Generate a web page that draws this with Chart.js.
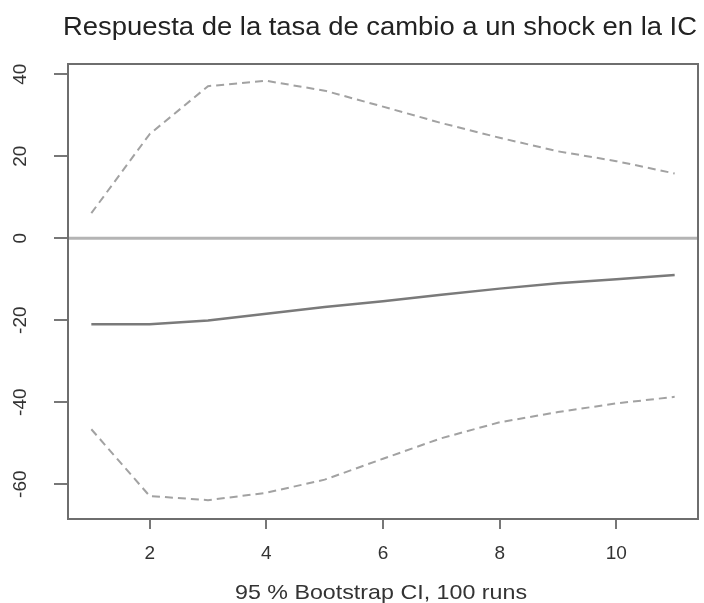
<!DOCTYPE html>
<html>
<head>
<meta charset="utf-8">
<script src="https://cdn.jsdelivr.net/npm/chart.js@4.4.1/dist/chart.umd.min.js"></script>
<style>
  html, body { margin: 0; padding: 0; background: #fff; }
  #wrap { width: 704px; height: 603px; }
</style>
</head>
<body>
<div id="wrap"><canvas id="chart" width="704" height="603"></canvas></div>
<script>
var steps = [1, 2, 3, 4, 5, 6, 7, 8, 9, 10, 11];
var response = [-21.0, -21.0, -20.1, -18.4, -16.8, -15.4, -13.8, -12.3, -11.0, -10.0, -9.0];
var upperCI = [6.1, 25.4, 37.1, 38.4, 36.0, 32.1, 28.1, 24.5, 21.2, 18.8, 15.8];
var lowerCI = [-46.6, -62.9, -63.9, -62.1, -58.9, -53.8, -48.8, -44.9, -42.4, -40.3, -38.7];
var xTicks = [2, 4, 6, 8, 10];
var yTicks = [-60, -40, -20, 0, 20, 40];

var titleText = 'Respuesta de la tasa de cambio a un shock en la IC';
var xTitle = '95 % Bootstrap CI, 100 runs';
var fontFam = '"Liberation Sans", Arial, Helvetica, sans-serif';

function pts(ys) {
  return steps.map(function(x, i) { return { x: x, y: ys[i] }; });
}

// text stretched to a given width, like the wide R output
function wideText(ctx, txt, cx, by, w) {
  var m = ctx.measureText(txt).width;
  ctx.save();
  ctx.translate(cx, by);
  ctx.scale(w / m, 1);
  ctx.textAlign = 'center';
  ctx.fillText(txt, 0, 0);
  ctx.restore();
}

// R-style box, zero line, rotated y labels, titles
var rDecor = {
  id: 'rDecor',
  beforeDatasetsDraw: function(chart) {
    var ctx = chart.ctx, a = chart.chartArea, y = chart.scales.y;
    var y0 = y.getPixelForValue(0);
    ctx.save();
    ctx.strokeStyle = '#b4b4b4';
    ctx.lineWidth = 3;
    ctx.beginPath();
    ctx.moveTo(a.left, y0);
    ctx.lineTo(a.right, y0);
    ctx.stroke();
    ctx.restore();
  },
  afterDraw: function(chart) {
    var ctx = chart.ctx, a = chart.chartArea, x = chart.scales.x, y = chart.scales.y;
    ctx.save();
    ctx.strokeStyle = '#6e6e6e';
    ctx.lineWidth = 2;
    ctx.strokeRect(a.left, a.top, a.right - a.left, a.bottom - a.top);

    ctx.fillStyle = '#333';
    ctx.font = '19px ' + fontFam;
    ctx.textAlign = 'center';
    ctx.textBaseline = 'alphabetic';
    yTicks.forEach(function(v) {
      ctx.save();
      ctx.translate(26, y.getPixelForValue(v));
      ctx.rotate(-Math.PI / 2);
      ctx.fillText(String(v), 0, 0);
      ctx.restore();
    });
    xTicks.forEach(function(v) {
      ctx.fillText(String(v), x.getPixelForValue(v), 559);
    });

    ctx.font = '21px ' + fontFam;
    wideText(ctx, xTitle, 381, 599, 292);

    ctx.fillStyle = '#222';
    ctx.font = '25px ' + fontFam;
    wideText(ctx, titleText, 380, 35, 634);
    ctx.restore();
  }
};

var config = {
  type: 'line',
  data: {
    datasets: [{
      label: 'respuesta',
      data: pts(response),
      borderColor: '#7a7a7a',
      borderWidth: 2.5,
      pointRadius: 0,
      tension: 0
    }, {
      label: 'superior',
      data: pts(upperCI),
      borderColor: '#a2a2a2',
      borderWidth: 2,
      borderDash: [8, 5],
      pointRadius: 0,
      tension: 0
    }, {
      label: 'inferior',
      data: pts(lowerCI),
      borderColor: '#a2a2a2',
      borderWidth: 2,
      borderDash: [8, 5],
      pointRadius: 0,
      tension: 0
    }]
  },
  options: {
    responsive: false,
    animation: false,
    layout: { padding: { top: 64, right: 6, left: 0, bottom: 0 } },
    plugins: {
      legend: { display: false },
      title: { display: false },
      tooltip: { enabled: false }
    },
    scales: {
      x: {
        type: 'linear',
        min: 0.6,
        max: 11.4,
        afterBuildTicks: function(s) { s.ticks = xTicks.map(function(v) { return { value: v }; }); },
        afterFit: function(s) { s.height = 84; },
        ticks: { display: false },
        border: { display: false },
        grid: { drawOnChartArea: false, drawTicks: true, tickLength: 10, color: '#777', lineWidth: 2 }
      },
      y: {
        min: -68.5,
        max: 42.5,
        afterBuildTicks: function(s) { s.ticks = yTicks.map(function(v) { return { value: v }; }); },
        afterFit: function(s) { s.width = 68; },
        ticks: { display: false },
        border: { display: false },
        grid: { drawOnChartArea: false, drawTicks: true, tickLength: 14, color: '#777', lineWidth: 2 }
      }
    }
  },
  plugins: [rDecor]
};

window.onload = function() {
  var ctx = document.getElementById('chart').getContext('2d');
  window.myChart = new Chart(ctx, config);
};
</script>
</body>
</html>
